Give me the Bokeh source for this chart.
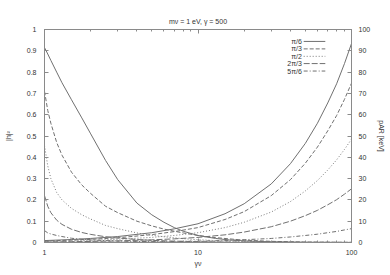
from bokeh.plotting import figure
from bokeh.models import (Range1d, LinearAxis, LogAxis, FixedTicker, LogTicker,
                          CustomJSTickFormatter, Label, Arrow)
from bokeh.embed import file_html
from bokeh.resources import INLINE

# ---------------- data ----------------
angles = ["\u03c0/6", "\u03c0/3", "\u03c0/2", "2\u03c0/3", "5\u03c0/6"]

# |h|^2 (left axis) versus gamma_nu
h_gamma = [1, 1.05, 1.1, 1.2, 1.3, 1.5, 1.75, 2, 2.5, 3, 4, 5, 6, 7, 8, 10, 13, 16, 20, 30, 50, 100]
h2_pi6 = [0.915, 0.885, 0.855, 0.80, 0.75, 0.67, 0.585, 0.51, 0.385, 0.295, 0.185, 0.13, 0.095, 0.07,
          0.053, 0.033, 0.019, 0.012, 0.0075, 0.0033, 0.0012, 0.0003]
h2_pi3 = [0.71, 0.62, 0.56, 0.47, 0.41, 0.33, 0.27, 0.23, 0.17, 0.14, 0.10, 0.078, 0.063, 0.053,
          0.045, 0.033, 0.023, 0.017, 0.011, 0.0055, 0.002, 0.0006]
h2_pi2 = [0.455, 0.36, 0.30, 0.235, 0.20, 0.16, 0.13, 0.11, 0.08, 0.065, 0.045, 0.034, 0.027, 0.022,
          0.018, 0.013, 0.009, 0.007, 0.005, 0.0025, 0.001, 0.0003]
h2_2pi3 = [0.22, 0.17, 0.14, 0.105, 0.085, 0.062, 0.047, 0.038, 0.027, 0.021, 0.014, 0.010, 0.008,
           0.0065, 0.0055, 0.004, 0.003, 0.0022, 0.0016, 0.0008, 0.0003, 0.0001]
h2_5pi6 = [0.056, 0.045, 0.04, 0.033, 0.028, 0.02, 0.015, 0.012, 0.009, 0.007, 0.005, 0.004, 0.003,
           0.0027, 0.0023, 0.0018, 0.0013, 0.001, 0.0008, 0.0005, 0.0002, 0.0001]

# p_AR [keV] (right axis) versus gamma_nu
p_gamma = [1, 1.5, 2, 3, 5, 7, 10, 15, 20, 30, 40, 50, 60, 70, 80, 90, 100]
p_pi6 = [0.9, 1.4, 1.9, 2.8, 4.6, 6.4, 8.8, 13.5, 18.2, 27.5, 37, 46.5, 56, 65.5, 74.5, 84, 93.4]
p_pi3 = [0.7, 1.1, 1.5, 2.2, 3.7, 5.1, 7.0, 10.8, 14.5, 22, 29.5, 37.2, 44.8, 52.4, 59.6, 67.2, 74.8]
p_pi2 = [0.5, 0.7, 1.0, 1.5, 2.4, 3.3, 4.6, 7.0, 9.5, 14.3, 19.2, 24.2, 29.1, 34, 38.8, 43.7, 48.5]
p_2pi3 = [0.25, 0.38, 0.5, 0.75, 1.25, 1.7, 2.4, 3.6, 4.9, 7.4, 10, 12.6, 15.1, 17.7, 20.1, 22.7, 25.2]
p_5pi6 = [0.06, 0.1, 0.13, 0.2, 0.32, 0.45, 0.62, 0.95, 1.3, 1.9, 2.6, 3.3, 3.9, 4.6, 5.2, 5.9, 6.5]

h_series = [h2_pi6, h2_pi3, h2_pi2, h2_2pi3, h2_5pi6]
p_series = [p_pi6, p_pi3, p_pi2, p_2pi3, p_5pi6]

left_ticks = [0, 0.1, 0.2, 0.3, 0.4, 0.5, 0.6, 0.7, 0.8, 0.9, 1]
right_ticks = [0, 10, 20, 30, 40, 50, 60, 70, 80, 90, 100]

title_text = "m\u03bd = 1 eV, \u03b3 = 500"

# ---------------- styles ----------------
FONT = "Liberation Sans"
TXT = "#333333"
AX = "#8a8a8a"
dashes = ["solid", "4 2", "1 2", "6 2", "4 2 1 2"]
colors = ["#707070", "#707070", "#7a7a7a", "#707070", "#707070"]

p = figure(width=388, height=271, x_axis_type="log",
           x_range=Range1d(1, 100), y_range=Range1d(0, 1),
           output_backend="svg", toolbar_location=None,
           min_border_left=44, min_border_right=37, min_border_top=29, min_border_bottom=29)
p.extra_y_ranges = {"p": Range1d(0, 100)}

p.grid.visible = False
p.outline_line_color = AX
p.background_fill_color = "white"
p.border_fill_color = "white"


def style_axis(ax):
    ax.axis_line_color = AX
    ax.major_tick_line_color = AX
    ax.minor_tick_line_color = AX
    ax.major_tick_in = 4
    ax.major_tick_out = 0
    ax.minor_tick_in = 2
    ax.minor_tick_out = 0
    ax.major_label_text_font = FONT
    ax.major_label_text_font_size = "7px"
    ax.major_label_text_color = TXT
    ax.major_label_standoff = 4
    ax.axis_label_text_font = FONT
    ax.axis_label_text_font_size = "7px"
    ax.axis_label_text_font_style = "normal"
    ax.axis_label_text_color = TXT


# bottom log axis
xa = p.xaxis[0]
style_axis(xa)
xa.ticker = LogTicker(num_minor_ticks=10)
xa.formatter = CustomJSTickFormatter(code="return String(Math.round(tick));")
xa.major_label_standoff = 7
xa.axis_label = "\u03b3\u03bd"
xa.axis_label_standoff = 2

# top mirror axis, carrying the chart title as its label (gnuplot style)
top = LogAxis(ticker=LogTicker(num_minor_ticks=10),
              formatter=CustomJSTickFormatter(code="return '';"))
style_axis(top)
top.major_label_standoff = 0
top.axis_label = title_text
top.axis_label_standoff = 5
p.add_layout(top, "above")

# left axis
ya = p.yaxis[0]
style_axis(ya)
ya.ticker = FixedTicker(ticks=left_ticks)
ya.formatter = CustomJSTickFormatter(code="return tick.toFixed(1).replace(/\\.0$/, '');")
ya.minor_tick_line_color = None
ya.major_label_standoff = 8
ya.axis_label = "|h|\u00b2"
ya.axis_label_standoff = 12

# right axis
ra = LinearAxis(y_range_name="p", ticker=FixedTicker(ticks=right_ticks))
style_axis(ra)
ra.minor_tick_line_color = None
ra.major_label_standoff = 7
ra.axis_label = "pAR [keV]"
ra.axis_label_standoff = 5
p.add_layout(ra, "right")

# curves
for i in range(5):
    p.line(h_gamma, h_series[i], line_color=colors[i], line_width=1, line_dash=dashes[i])
    p.line(p_gamma, p_series[i], line_color=colors[i], line_width=1, line_dash=dashes[i],
           y_range_name="p")

# gnuplot-style key: label then line sample (top right)
key_text_x = 47.5
key_line_x0 = 48.8
key_line_x1 = 67.5
key_rows = [0.944, 0.909, 0.874, 0.840, 0.805]
for i in range(5):
    p.add_layout(Label(x=key_text_x, y=key_rows[i], text=angles[i], text_font=FONT,
                       text_font_size="7px", text_color=TXT, text_align="right",
                       text_baseline="middle"))
    p.add_layout(Arrow(end=None, x_start=key_line_x0, y_start=key_rows[i],
                       x_end=key_line_x1, y_end=key_rows[i], line_color=colors[i],
                       line_width=1, line_dash=dashes[i]))

open("out.html", "w").write(file_html(p, INLINE))
